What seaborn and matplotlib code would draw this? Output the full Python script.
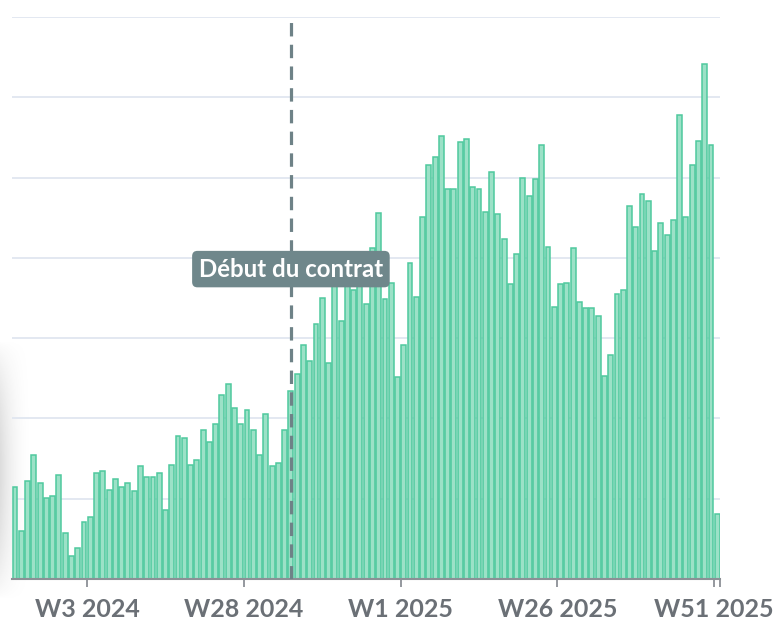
import matplotlib
matplotlib.use("Agg")
import matplotlib.pyplot as plt
import numpy as np
import pandas as pd
import seaborn as sns

# Weekly volumes, ISO week 43 of 2023 through week 51 of 2025
first_year, first_week = 2023, 43
last_year, last_week = 2025, 51
valeurs = [
    11.5, 6.0, 12.2, 15.4, 12.0, 10.1, 10.3, 12.9, 5.7, 2.9,
    3.8, 7.1, 7.7, 13.2, 13.4, 11.1, 12.5, 11.5, 11.9, 11.0,
    14.1, 12.7, 12.7, 13.2, 8.6, 14.2, 17.8, 17.6, 14.2, 14.8,
    18.5, 17.1, 19.3, 22.9, 24.3, 21.3, 19.3, 21.0, 18.6, 15.4,
    20.5, 14.1, 14.5, 18.6, 23.4, 25.5, 29.1, 27.1, 31.7, 35.0,
    26.9, 37.5, 32.1, 37.2, 36.0, 37.0, 34.2, 41.2, 45.6, 34.9,
    36.9, 25.2, 29.1, 39.3, 35.1, 45.1, 51.6, 52.6, 55.2, 48.6,
    48.6, 54.4, 54.8, 48.8, 48.6, 45.7, 50.7, 45.5, 42.3, 36.7,
    40.5, 50.0, 47.7, 49.8, 54.0, 41.4, 33.9, 36.7, 36.9, 41.2,
    34.5, 33.7, 33.7, 32.7, 25.3, 27.9, 35.5, 36.0, 46.5, 43.9,
    48.0, 47.1, 40.8, 44.3, 42.8, 44.7, 57.8, 45.1, 51.6, 54.6,
    64.2, 54.0, 8.1,
]

tick_labels = ["W3 2024", "W28 2024", "W1 2025", "W26 2025", "W51 2025"]
debut_contrat = "W35 2024"
libelle_contrat = "Début du contrat"

# Build the week categories
semaines = []
y, w = first_year, first_week
while (y, w) <= (last_year, last_week):
    semaines.append(f"W{w} {y}")
    w += 1
    if w > 52:
        y, w = y + 1, 1
df = pd.DataFrame({"semaine": semaines, "valeur": valeurs})

sns.set_theme(style="white")
plt.rcParams["font.family"] = ["Lato", "DejaVu Sans"]

W, H = 775, 622
fig = plt.figure(figsize=(W / 100, H / 100), dpi=100)

# soft card shadow on the left edge
sh = fig.add_axes([0, 1 - 600 / H, 34 / W, 260 / H], zorder=0)
gx = np.linspace(1, 0, 60) ** 2.2
gy = np.sin(np.linspace(0, np.pi, 120)) ** 0.8
shade = np.outer(gy, gx)
rgba = np.zeros((120, 60, 4))
rgba[..., :3] = 0.55
rgba[..., 3] = 0.3 * shade
sh.imshow(rgba, aspect="auto", extent=[0, 1, 0, 1])
sh.axis("off")

left, right = 11.9 / W, 720.4 / W
bottom, top = 1 - 579 / H, 1 - 17 / H
ax = fig.add_axes([left, bottom, right - left, top - bottom], zorder=1)
ax.patch.set_alpha(0)

sns.barplot(data=df, x="semaine", y="valeur", color="#9ce1c7", saturation=1,
            width=0.78, edgecolor="#4fc99e", linewidth=1.1, ax=ax, zorder=2)

n = len(semaines)
ax.set_xlim(-0.5, n - 0.5)
ax.set_ylim(0, 70)

# horizontal grid
ax.set_yticks(np.arange(10, 71, 10))
ax.yaxis.grid(True, color="#e0e6f0", linewidth=1.3, zorder=0)
ax.set_axisbelow(True)
ax.tick_params(axis="y", left=False, labelleft=False)

# ticks sit on the left edge of each labelled week
pos = [semaines.index(t) - 0.5 for t in tick_labels] + [n - 0.5]
ax.set_xticks(pos)
ax.set_xticklabels(tick_labels + [""])
ax.tick_params(axis="x", length=6, width=1.3, color="#8c9096", pad=8,
               labelsize=18, labelcolor="#6b7076", bottom=True)
for lbl in ax.get_xticklabels():
    lbl.set_fontweight("bold")
ax.set_xlabel("")
ax.set_ylabel("")

for s in ["top", "right", "left"]:
    ax.spines[s].set_visible(False)
ax.spines["bottom"].set_color("#8c9096")
ax.spines["bottom"].set_linewidth(1.5)

# contract start marker
xc = semaines.index(debut_contrat)
ax.axvline(xc, color="#6e8287", linewidth=2.3, linestyle=(0, (4.2, 2.6)),
           zorder=4)
ax.text(xc, 38.6, libelle_contrat, ha="center", va="center", color="white",
        fontsize=17.3, fontweight="bold", zorder=5,
        bbox=dict(boxstyle="round,pad=0.28,rounding_size=0.22",
                  facecolor="#6f878b", edgecolor="none"))

fig.savefig("out.png", dpi=100)
